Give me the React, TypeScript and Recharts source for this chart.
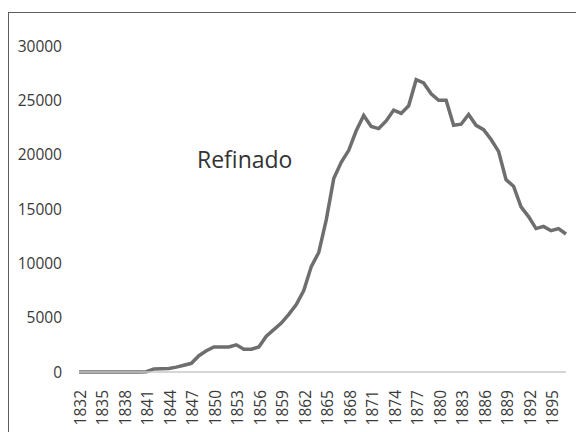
import { LineChart, Line, XAxis, YAxis } from 'recharts'

const years = [
  1832, 1833, 1834, 1835, 1836, 1837, 1838, 1839, 1840, 1841,
  1842, 1843, 1844, 1845, 1846, 1847, 1848, 1849, 1850, 1851,
  1852, 1853, 1854, 1855, 1856, 1857, 1858, 1859, 1860, 1861,
  1862, 1863, 1864, 1865, 1866, 1867, 1868, 1869, 1870, 1871,
  1872, 1873, 1874, 1875, 1876, 1877, 1878, 1879, 1880, 1881,
  1882, 1883, 1884, 1885, 1886, 1887, 1888, 1889, 1890, 1891,
  1892, 1893, 1894, 1895, 1896, 1897,
]

const refinado = [
  0, 0, 0, 0, 0, 0, 0, 0, 0, 30,
  280, 300, 320, 450, 620, 800, 1500, 1950, 2300, 2300,
  2300, 2500, 2100, 2100, 2300, 3300, 3900, 4500, 5300, 6200,
  7500, 9700, 11000, 14000, 17800, 19300, 20400, 22200, 23600, 22600,
  22400, 23100, 24100, 23800, 24500, 26900, 26600, 25600, 25000, 25000,
  22700, 22800, 23700, 22700, 22300, 21400, 20300, 17700, 17100, 15200,
  14300, 13200, 13400, 13000, 13200, 12700,
]

const xTicks = [
  1832, 1835, 1838, 1841, 1844, 1847, 1850, 1853, 1856, 1859, 1862,
  1865, 1868, 1871, 1874, 1877, 1880, 1883, 1886, 1889, 1892, 1895,
]
const yTicks = [0, 5000, 10000, 15000, 20000, 25000, 30000]

const data = years.map((year, i) => ({ year, value: refinado[i] }))

const font = '"Open Sans", sans-serif'
const textColor = '#3a3a3a'

function YearTick({ x, y, payload }: any) {
  const ty = y + 10
  return (
    <text
      x={x + 1}
      y={ty}
      transform={`rotate(-90 ${x + 1} ${ty})`}
      textAnchor="end"
      dominantBaseline="central"
      fontSize={15.5}
      fontFamily={font}
      fill={textColor}
    >
      {payload.value}
    </text>
  )
}

export default function App() {
  return (
    <div
      style={{
        position: 'absolute',
        left: 0,
        top: 0,
        width: 576,
        height: 432,
        overflow: 'hidden',
        background: '#fff',
        fontFamily: font,
      }}
    >
      <div
        style={{
          position: 'absolute',
          left: 8,
          top: 12,
          width: 700,
          height: 600,
          border: '1px solid #5e5e5e',
        }}
      />
      <div style={{ position: 'absolute', left: 0, top: 0 }}>
        <LineChart width={576} height={432} data={data} margin={{ top: 46, right: 10, left: 0, bottom: 0 }}>
          <XAxis
            dataKey="year"
            type="number"
            domain={[1832, 1897]}
            ticks={xTicks}
            interval={0}
            height={60}
            tickLine={false}
            axisLine={{ stroke: '#c9c9c9', strokeWidth: 1.5 }}
            tick={<YearTick />}
          />
          <YAxis
            type="number"
            domain={[0, 30000]}
            ticks={yTicks}
            width={79}
            axisLine={false}
            tickLine={false}
            tickSize={0}
            tickMargin={17}
            tick={{ fontSize: 15.5, fill: textColor, fontFamily: font }}
          />
          <Line
            type="linear"
            dataKey="value"
            stroke="#6e6e6e"
            strokeWidth={3.5}
            dot={false}
            isAnimationActive={false}
          />
        </LineChart>
      </div>
      <div
        style={{
          position: 'absolute',
          left: 197,
          top: 145,
          fontSize: 23,
          lineHeight: '28px',
          color: '#333',
          fontFamily: font,
        }}
      >
        Refinado
      </div>
    </div>
  )
}
